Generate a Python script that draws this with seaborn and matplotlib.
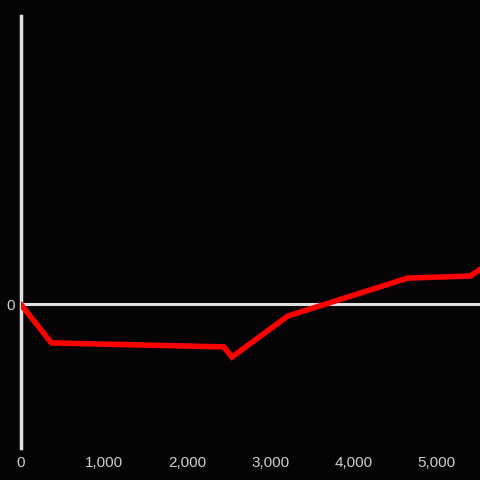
import matplotlib
matplotlib.use("Agg")
import matplotlib.pyplot as plt
import seaborn as sns
import pandas as pd
from matplotlib.ticker import FuncFormatter

# ------------------------------------------------------------------
# DATA
# ------------------------------------------------------------------
x_vals = [0, 370, 2440, 2540, 3210, 4650, 5400, 5600]
y_vals = [0.0, -1.35, -1.49, -1.84, -0.42, 0.90, 0.97, 1.35]
x_ticks = [0, 1000, 2000, 3000, 4000, 5000]

BG = "#050306"
FG = "#e0e0e0"
TXT = "#cfcfcf"

df = pd.DataFrame({"x": x_vals, "y": y_vals})

sns.set_theme(style="dark")
plt.rcParams["font.family"] = ["Liberation Sans", "DejaVu Sans"]

fig = plt.figure(figsize=(4.8, 4.8), dpi=100, facecolor=BG)
ax = fig.add_axes([20.5 / 480, 32 / 480, 1 - 20.5 / 480, 432 / 480])
ax.set_facecolor(BG)

ax.axhline(0, color=FG, linewidth=2.2, zorder=1)
sns.lineplot(data=df, x="x", y="y", color="#ff0000", linewidth=4, ax=ax,
             zorder=3, solid_joinstyle="miter")

ax.set_xlim(0, 5520)
ax.set_ylim(-5, 10)

for side in ["top", "right", "bottom"]:
    ax.spines[side].set_visible(False)
ax.spines["left"].set_color(FG)
ax.spines["left"].set_linewidth(2.5)
ax.grid(False)

ax.set_xticks(x_ticks)
ax.xaxis.set_major_formatter(FuncFormatter(lambda v, p: f"{int(v):,}"))
ax.set_yticks([0])
ax.set_yticklabels(["0"])
ax.tick_params(axis="both", length=0, colors=TXT, labelsize=11)
ax.tick_params(axis="x", pad=6)
ax.tick_params(axis="y", pad=4)
ax.set_xlabel("")
ax.set_ylabel("")

fig.savefig("out.png", dpi=100, facecolor=BG)
